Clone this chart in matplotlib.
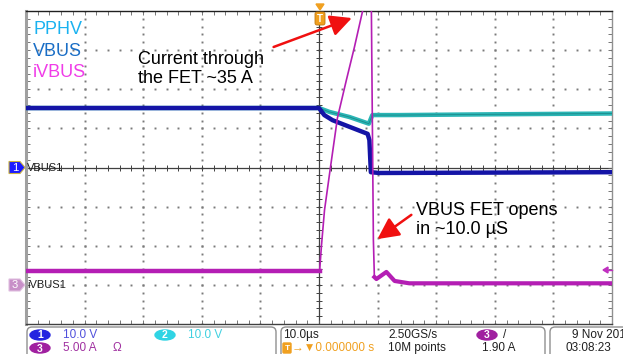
import numpy as np
import matplotlib.pyplot as plt
from matplotlib.patches import FancyBboxPatch, Polygon, Ellipse

# ---- trace data (time in us, amplitude in screen divisions) ----
pphv_t = [-50, 0, 1.8, 5.2, 8.5, 9.1, 13.7, 30, 50]
pphv_v = [1.52, 1.52, 1.42, 1.29, 1.12, 1.34, 1.34, 1.36, 1.38]

vbus_t = [-50, 0, 0.9, 2.3, 5.2, 8.3, 8.6, 8.85, 10.3, 30, 50]
vbus_v = [1.52, 1.52, 1.34, 1.21, 1.04, 0.86, 0.70, -0.12, -0.14, -0.13, -0.12]

ivbus_t = [-50, 0.1, 0.43, 0.94, 1.96, 3.15, 4.68, 6.05, 7.41, 7.92, 8.43,
           8.7, 8.94, 9.28, 9.45, 9.8, 11.5, 12.9, 15.4, 30, 50]
ivbus_v = [-2.65, -2.65, -1.98, -1.09, 0.01, 1.27, 2.24, 3.08, 3.98, 4.28, 4.8,
           4.8, 4.0, -1.85, -2.80, -2.85, -2.67, -2.90, -2.96, -2.96, -2.96]

legend_names = ["PPHV", "VBUS", "iVBUS"]
legend_colors = ["#1ab2f0", "#1a6ec6", "#f03ce8"]

C_PPHV = "#2ab5b5"
C_VBUS = "#1414a6"
C_IVBUS = "#b41eb4"
ORANGE = "#f0a020"

fig = plt.figure(figsize=(6.23, 3.54), dpi=100)
fig.patch.set_facecolor("white")
plt.rcParams["font.family"] = ["Liberation Sans", "DejaVu Sans"]

# ---- scope screen ----
ax = fig.add_axes([26 / 623, 30 / 354, 586 / 623, 313 / 354])
ax.set_xlim(-50, 50)
ax.set_ylim(-4, 4)
ax.set_xticks(np.arange(-50, 50.1, 2))
ax.set_yticks(np.arange(-4, 4.01, 0.2))
ax.tick_params(direction="in", length=3, width=0.6, color="#606060",
               top=True, right=True, labelbottom=False, labelleft=False)
for side, col, lw in [("left", "#a0a0a0", 2.2), ("right", "#909090", 1.0),
                      ("top", "#202020", 1.0), ("bottom", "#404040", 1.0)]:
    ax.spines[side].set_color(col)
    ax.spines[side].set_linewidth(lw)

# dotted graticule
for gx in [-40, -30, -20, -10, 10, 20, 30, 40]:
    ys = np.arange(-4, 4.01, 0.2)
    ax.plot(np.full_like(ys, gx), ys, ls="none", marker="s", ms=1.4, mew=0,
            color="#7a7a7a", zorder=1)
for gy in [-3, -2, -1, 1, 2, 3]:
    xs = np.arange(-50, 50.1, 2)
    ax.plot(xs, np.full_like(xs, gy), ls="none", marker="s", ms=1.4, mew=0,
            color="#7a7a7a", zorder=1)

# center crosshair with ticks
ax.axhline(0, color="#404040", lw=0.9, zorder=1)
ax.axvline(0, color="#404040", lw=0.9, zorder=1)
xs = np.arange(-50, 50.1, 2)
ax.plot(xs, np.zeros_like(xs), ls="none", marker="|", ms=5, mew=0.7,
        color="#404040", zorder=1)
ys = np.arange(-4, 4.01, 0.2)
ax.plot(np.zeros_like(ys), ys, ls="none", marker="_", ms=5, mew=0.7,
        color="#404040", zorder=1)

# traces
ax.plot(pphv_t, pphv_v, color=C_PPHV, lw=3.2, zorder=3)
ax.plot(pphv_t, pphv_v, color="#1c8a8a", lw=0.6, zorder=3)
ax.plot(vbus_t, vbus_v, color=C_VBUS, lw=3.2, zorder=4)
ax.plot(ivbus_t, ivbus_v, color=C_IVBUS, lw=1.2, zorder=5)
ax.plot(ivbus_t[:2], ivbus_v[:2], color=C_IVBUS, lw=3.2, zorder=5)
ax.plot(ivbus_t[14:], ivbus_v[14:], color=C_IVBUS, lw=3.0, zorder=5)

# legend labels
for i, (name, col) in enumerate(zip(legend_names, legend_colors)):
    ax.text(-48.8, 3.52 - 0.55 * i, name, color=col, fontsize=13,
            ha="left", va="center", zorder=6)

# annotations
ax.text(-30.9, 2.52, "Current through\nthe FET ~35 A", fontsize=13,
        ha="left", va="center", linespacing=1.2, zorder=6)
ax.text(16.6, -1.34, "VBUS FET opens\nin ~10.0 µS", fontsize=13,
        ha="left", va="center", linespacing=1.2, zorder=6)
arrow = dict(arrowstyle="-|>,head_length=1.3,head_width=0.65", color="#f01010",
             lw=1.8, shrinkA=0, shrinkB=0)
ax.annotate("", xy=(5.6, 3.82), xytext=(-7.75, 3.08), arrowprops=arrow,
            zorder=7, annotation_clip=False)
ax.annotate("", xy=(9.97, -1.83), xytext=(15.76, -1.21), arrowprops=arrow,
            zorder=7)

# ---- overlay in pixel coordinates ----
ov = fig.add_axes([0, 0, 1, 1], zorder=10)
ov.set_xlim(0, 623)
ov.set_ylim(354, 0)
ov.axis("off")
ov.patch.set_alpha(0)

# trigger marker
ov.add_patch(Polygon([[316, 4], [324, 4], [320, 10]], closed=True,
                     color=ORANGE))
ov.add_patch(FancyBboxPatch((315, 12), 10, 13, boxstyle="round,pad=0,rounding_size=2",
                            fc=ORANGE, ec="#c07810", lw=0.6))
ov.text(320, 19, "T", color="white", fontsize=7, ha="center", va="center",
        fontweight="bold")

# channel markers
def ch_marker(y, label, fc, ec, name):
    ov.add_patch(Polygon([[9, y - 6], [20, y - 6], [25, y], [20, y + 6], [9, y + 6]],
                         closed=True, fc=fc, ec=ec, lw=0.8))
    ov.text(15, y + 0.5, label, color="white", fontsize=8, ha="center",
            va="center")
    ov.text(27, y + 0.5, name, color="#202020", fontsize=8, ha="left",
            va="center")

ch_marker(167.5, "1", "#1a1aff", "#c8b040", "VBUS1")
ch_marker(285, "3", "#c890c8", "#e0c0e0", "iVBUS1")

# ch3 trigger level marker
ov.add_patch(Polygon([[603, 270], [608, 267], [608, 273]], closed=True,
                     color="#c030c0"))
ov.plot([606, 612], [270, 270], color="#c030c0", lw=1)

# ---- status bar ----
for x0, x1 in [(27, 276), (281, 545), (550, 640)]:
    ov.add_patch(FancyBboxPatch((x0, 327), x1 - x0, 40,
                                boxstyle="round,pad=0,rounding_size=5",
                                fc="white", ec="#909090", lw=1))

def badge(x, y, label, col):
    ov.add_patch(Ellipse((x, y), 20, 10, color=col))
    ov.text(x, y + 0.5, label, color="white", fontsize=7.5, ha="center",
            va="center", fontweight="bold")

badge(40, 335, "1", "#2424e0")
badge(165, 335, "2", "#30d4e4")
badge(40, 348, "3", "#a020a0")
badge(487, 335, "3", "#a020a0")

fs = 8.5
ov.text(63, 335, "10.0 V", color="#5050dc", fontsize=fs, va="center")
ov.text(188, 335, "10.0 V", color="#40d0e0", fontsize=fs, va="center")
ov.text(63, 348, "5.00 A", color="#a030a0", fontsize=fs, va="center")
ov.text(113, 348, "Ω", color="#a030a0", fontsize=fs, va="center")
ov.text(283, 335, "10.0µs", color="#202020", fontsize=fs, va="center")
ov.add_patch(FancyBboxPatch((283, 343), 8, 10, boxstyle="round,pad=0,rounding_size=1",
                            fc=ORANGE, ec=ORANGE))
ov.text(287, 348, "T", color="white", fontsize=6, ha="center", va="center",
        fontweight="bold")
ov.text(292, 348, "→▼0.000000 s", color=ORANGE, fontsize=fs, va="center")
ov.text(388, 335, "2.50GS/s", color="#202020", fontsize=fs, va="center")
ov.text(388, 348, "10M points", color="#202020", fontsize=fs, va="center")
ov.text(503, 335, "/", color="#202020", fontsize=fs, va="center")
ov.text(482, 348, "1.90 A", color="#202020", fontsize=fs, va="center")
ov.text(572, 335, "9 Nov 201", color="#202020", fontsize=fs, va="center")
ov.text(565, 348, "03:08:23", color="#202020", fontsize=fs, va="center")

fig.savefig("out.png", dpi=100)
